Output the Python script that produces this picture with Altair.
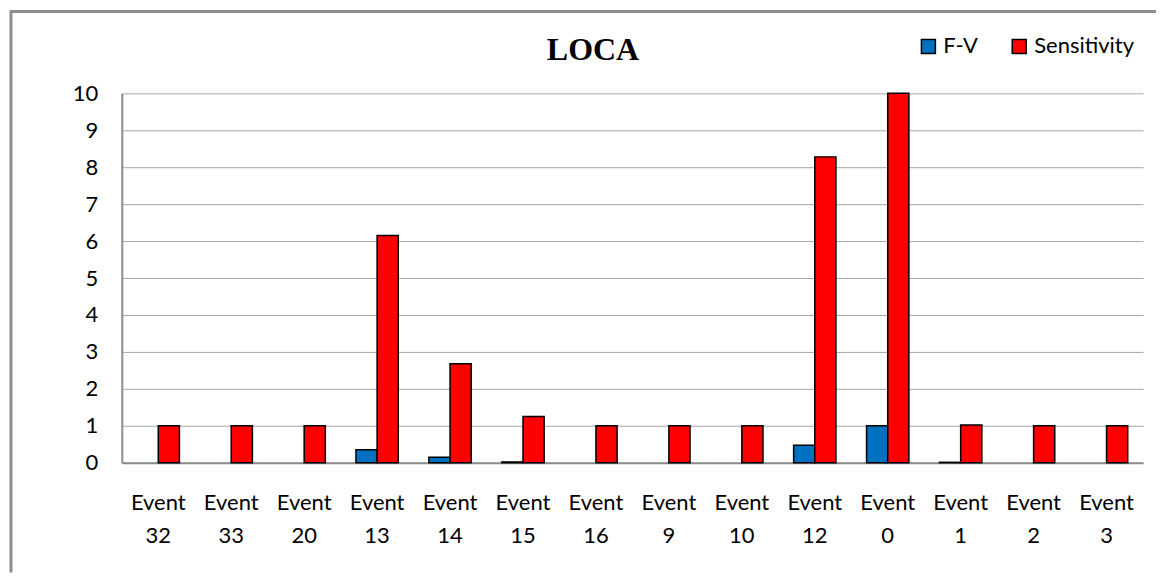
import altair as alt
import pandas as pd

events = ["Event 32", "Event 33", "Event 20", "Event 13", "Event 14", "Event 15", "Event 16",
          "Event 9", "Event 10", "Event 12", "Event 0", "Event 1", "Event 2", "Event 3"]
fv = [0, 0, 0, 0.35, 0.15, 0.02, 0, 0, 0, 0.47, 1.0, 0.01, 0, 0]
sensitivity = [1, 1, 1, 6.15, 2.68, 1.25, 1, 1, 1, 8.28, 10, 1.02, 1, 1]
series = ["F-V", "Sensitivity"]
colors = ["#0070C0", "#FF0000"]

rows = []
for i, e in enumerate(events):
    rows.append({"event": e, "series": "F-V", "value": fv[i]})
    rows.append({"event": e, "series": "Sensitivity", "value": sensitivity[i]})
df = pd.DataFrame(rows)

FONT = "Lato"
FS = 22
W, H = 1023, 370

bars = alt.Chart(df).transform_filter("datum.value > 0").mark_bar(
    stroke="black", strokeWidth=1.5
).encode(
    x=alt.X("event:N", sort=events,
            scale=alt.Scale(paddingInner=0.42, paddingOuter=0.21),
            axis=alt.Axis(title=None, labelAngle=0, labelExpr="split(datum.label, ' ')",
                          labelFontSize=FS, labelFont=FONT, labelColor="black",
                          labelPadding=30, labelLineHeight=33, labelBaseline="top",
                          ticks=False, domainColor="#8c8c8c", domainWidth=2, grid=False)),
    xOffset=alt.XOffset("series:N", sort=series),
    y=alt.Y("value:Q", scale=alt.Scale(domain=[0, 10], nice=False),
            axis=alt.Axis(title=None, values=list(range(0, 11)), labelFontSize=FS,
                          labelFont=FONT, labelColor="black", labelPadding=24, ticks=False,
                          domainColor="#8c8c8c", domainWidth=2, gridColor="#a6a6a6",
                          gridWidth=1)),
    color=alt.Color("series:N", sort=series,
                    scale=alt.Scale(domain=series, range=colors),
                    legend=alt.Legend(title=None, orient="none", direction="horizontal",
                                      legendX=797, legendY=-58, symbolType="square",
                                      symbolSize=196, symbolStrokeColor="black",
                                      symbolStrokeWidth=1.5, labelFontSize=FS,
                                      labelFont=FONT, labelColor="black", labelOffset=4,
                                      columnPadding=30, symbolOpacity=1)),
)

title = alt.Chart(pd.DataFrame({"t": ["LOCA"]})).mark_text(
    font="Liberation Serif", fontSize=32, fontWeight="bold", color="black",
    align="center", baseline="alphabetic"
).encode(text="t:N", x=alt.value(472), y=alt.value(-33))

left_border = alt.Chart(pd.DataFrame({"a": [0]})).mark_rule(
    color="#8c8c8c", strokeWidth=3
).encode(x=alt.value(-111), y=alt.value(-83), y2=alt.value(480))

top_border = alt.Chart(pd.DataFrame({"a": [0]})).mark_rule(
    color="#8c8c8c", strokeWidth=3
).encode(x=alt.value(-112), x2=alt.value(1036), y=alt.value(-82))

chart = alt.layer(left_border, top_border, bars, title).properties(
    width=W, height=H, padding=0
).configure_view(stroke=None)

chart.save("out.html", embed_options={"renderer": "svg", "actions": False})
